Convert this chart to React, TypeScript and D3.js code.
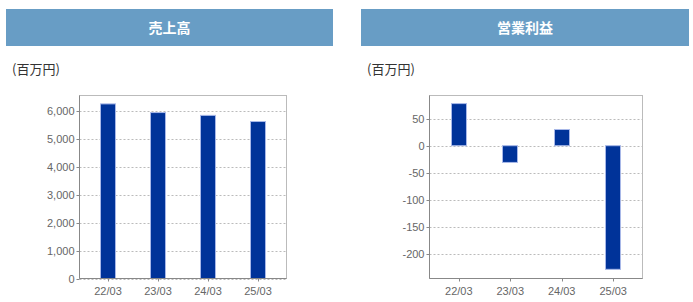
import * as React from "react"
import * as d3 from "d3"

const periods = ["22/03", "23/03", "24/03", "25/03"]
const salesValues = [6240, 5930, 5830, 5610]
const profitValues = [78, -31, 30, -229]
const salesTicks = [0, 1000, 2000, 3000, 4000, 5000, 6000]
const profitTicks = [-200, -150, -100, -50, 0, 50]

const unitLabel = "(百万円)"

interface PanelProps {
    x: number
    w: number
    title: string
    values: number[]
    ticks: number[]
    domain: [number, number]
    plotLeft: number
    plotRight: number
    fmt: (d: number) => string
}

const Panel = ({ x, w, title, values, ticks, domain, plotLeft, plotRight, fmt }: PanelProps) => {
    const [top, bottom, barW] = [95.5, 278.5, 16]

    const xScale = d3.scalePoint<string>()
        .domain(periods)
        .range([plotLeft, plotRight])
        .padding(0.57)

    const yScale = d3.scaleLinear()
        .domain(domain)
        .range([bottom, top])

    const grid = ticks.map((t, i) => (
        <g key={i}>
            <line x1={plotLeft} x2={plotRight} y1={Math.round(yScale(t)) + 0.5} y2={Math.round(yScale(t)) + 0.5}
                stroke="#bbbbbb" strokeDasharray="2,2" strokeWidth={1} />
            <line x1={plotLeft - 3} x2={plotLeft} y1={Math.round(yScale(t)) + 0.5} y2={Math.round(yScale(t)) + 0.5}
                stroke="#888" strokeWidth={1} />
            <text x={plotLeft - 5} y={yScale(t) + 4} fontSize={11} textAnchor="end" fill="#666"
                fontFamily="'Liberation Sans', Arial, sans-serif">{fmt(t)}</text>
        </g>
    ))

    const zero = yScale(0)
    const bars = values.map((v, i) => {
        const cx = xScale(periods[i]) ?? 0
        const y0 = Math.min(yScale(v), zero)
        const h = Math.abs(yScale(v) - zero)
        return (
            <g key={i}>
                <rect x={Math.round(cx - barW / 2) + 0.5} y={y0} width={barW - 1} height={h}
                    fill="#003399" stroke="#a8b8e8" strokeWidth={1} />
                <line x1={Math.round(cx) + 0.5} x2={Math.round(cx) + 0.5} y1={bottom} y2={bottom + 3} stroke="#888" />
                <text x={cx} y={bottom + 16} fontSize={11} textAnchor="middle" fill="#666"
                    fontFamily="'Liberation Sans', Arial, sans-serif">{periods[i]}</text>
            </g>
        )
    })

    return (
        <g>
            <rect x={x} y={9} width={w} height={37} fill="#689dc5" />
            <text x={x + w / 2} y={33} fontSize={14} fontWeight="bold" fill="#fff" textAnchor="middle"
                fontFamily="'Noto Sans CJK JP', sans-serif">{title}</text>
            <text x={x + 6} y={74} fontSize={13} fill="#333"
                fontFamily="'Noto Sans CJK JP', sans-serif">{unitLabel}</text>
            <rect x={plotLeft} y={top} width={plotRight - plotLeft} height={bottom - top} fill="#fff" stroke="#bbbbbb" />
            {grid}
            {bars}
            <line x1={plotLeft} x2={plotLeft} y1={top} y2={bottom} stroke="#888" />
            <line x1={plotLeft} x2={plotRight} y1={bottom} y2={bottom} stroke="#888" />
        </g>
    )
}

export default function App() {
    return (
        <svg width={693} height={302} style={{ position: "absolute", left: 0, top: 0 }}>
            <Panel x={6} w={327} title="売上高" values={salesValues} ticks={salesTicks} domain={[0, 6540]}
                plotLeft={79.5} plotRight={286.5} fmt={d3.format(",")} />
            <Panel x={361} w={328} title="営業利益" values={profitValues} ticks={profitTicks} domain={[-246, 93]}
                plotLeft={429.5} plotRight={642.5} fmt={d => String(d)} />
        </svg>
    )
}
